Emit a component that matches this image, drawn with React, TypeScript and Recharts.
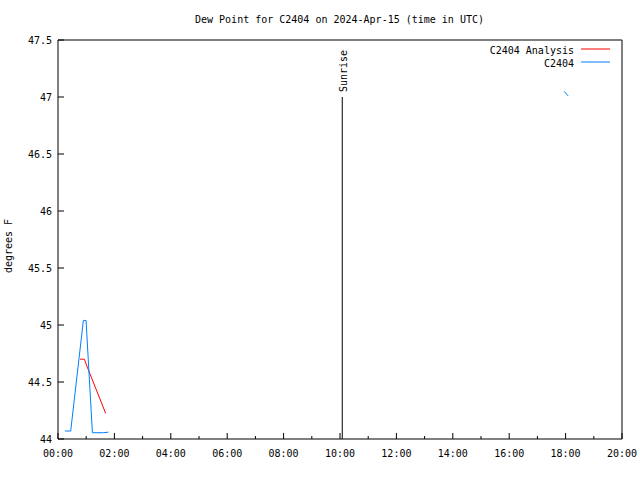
import React from "react";
import {
  LineChart,
  Line,
  XAxis,
  YAxis,
  ReferenceLine,
  Legend,
} from "recharts";

// times are hours since 00:00 UTC
const analysisTimes = [0.78, 0.935, 1.04, 1.69];
const analysisValues = [44.7, 44.7, 44.63, 44.225];

const stationTimes = [0.25, 0.45, 0.9, 0.995, 1.22, 1.61, 1.79, 10, 17.95, 18.09];
const stationValues = [44.07, 44.07, 45.04, 45.04, 44.055, 44.055, 44.06, null, 47.05, 47.01];

const hourTicks = [0, 1, 2, 3, 4, 5, 6, 7, 8, 9, 10, 11, 12, 13, 14, 15, 16, 17, 18, 19, 20];
const valueTicks = [44, 44.5, 45, 45.5, 46, 46.5, 47, 47.5];

const sunriseHour = 10.08;
const sunriseTop = 47;

const seriesNames = ["C2404 Analysis", "C2404"];
const seriesColors = ["#ff0000", "#0080ff"];

const analysisData = analysisTimes.map((t, i) => ({ t, v: analysisValues[i] }));
const stationData = stationTimes.map((t, i) => ({ t, v: stationValues[i] }));

const FONT = "'DejaVu Sans Mono', 'Liberation Mono', monospace";
const INK = "#000";
const TS = 6; // recharts tick size; custom ticks undo it to find the axis line

const hourLabel = (h: number) => `${String(h).padStart(2, "0")}:00`;

const BottomTick = (props: any) => {
  const { x, y, payload } = props;
  const ay = y - TS;
  const major = payload.value % 2 === 0;
  return (
    <g>
      <line x1={x} y1={ay} x2={x} y2={ay - (major ? 6 : 3)} stroke={INK} />
      {major && (
        <text x={x} y={ay + 18} textAnchor="middle" fontSize={10} fontFamily={FONT} fill={INK}>
          {hourLabel(payload.value)}
        </text>
      )}
    </g>
  );
};

const TopTick = (props: any) => {
  const { x, y, payload } = props;
  const ay = y + TS;
  const major = payload.value % 2 === 0;
  return <line x1={x} y1={ay} x2={x} y2={ay + (major ? 6 : 3)} stroke={INK} />;
};

const LeftTick = (props: any) => {
  const { x, y, payload } = props;
  const ax = x + TS;
  return (
    <g>
      <line x1={ax} y1={y} x2={ax + 6} y2={y} stroke={INK} />
      <text x={ax - 6} y={y + 4} textAnchor="end" fontSize={10} fontFamily={FONT} fill={INK}>
        {String(payload.value)}
      </text>
    </g>
  );
};

const RightTick = (props: any) => {
  const { x, y } = props;
  const ax = x - TS;
  return <line x1={ax} y1={y} x2={ax - 6} y2={y} stroke={INK} />;
};

const SunriseLabel = (props: any) => {
  const { viewBox } = props;
  const x = viewBox.x + 5;
  const y = viewBox.y - 5;
  return (
    <text
      x={x}
      y={y}
      transform={`rotate(-90 ${x} ${y})`}
      textAnchor="start"
      fontSize={10}
      fontFamily={FONT}
      fill={INK}
    >
      Sunrise
    </text>
  );
};

const renderLegend = () => (
  <svg width={640} height={80}>
    {seriesNames.map((name, i) => (
      <g key={name}>
        <text
          x={574}
          y={50 + i * 13 + 4}
          textAnchor="end"
          fontSize={10}
          fontFamily={FONT}
          fill={INK}
        >
          {name}
        </text>
        <line x1={581} x2={610} y1={49 + i * 13} y2={49 + i * 13} stroke={seriesColors[i]} />
      </g>
    ))}
  </svg>
);

export default function App() {
  return (
    <div style={{ position: "absolute", left: 0, top: 0, width: 640, height: 480, background: "#fff" }}>
      <LineChart width={640} height={480} margin={{ top: 39, right: 17, bottom: 11, left: 0 }}>
        <XAxis
          dataKey="t"
          type="number"
          domain={[0, 20]}
          ticks={hourTicks}
          interval={0}
          height={30}
          tickSize={TS}
          tickMargin={0}
          tickLine={false}
          axisLine={{ stroke: INK }}
          tick={<BottomTick />}
          allowDataOverflow
        />
        <XAxis
          xAxisId="top"
          orientation="top"
          type="number"
          domain={[0, 20]}
          ticks={hourTicks}
          interval={0}
          height={1}
          tickSize={TS}
          tickMargin={0}
          tickLine={false}
          axisLine={{ stroke: INK }}
          tick={<TopTick />}
        />
        <YAxis
          type="number"
          domain={[44, 47.5]}
          ticks={valueTicks}
          interval={0}
          width={58}
          tickSize={TS}
          tickMargin={0}
          tickLine={false}
          axisLine={{ stroke: INK }}
          tick={<LeftTick />}
          allowDataOverflow
        />
        <YAxis
          yAxisId="right"
          orientation="right"
          type="number"
          domain={[44, 47.5]}
          ticks={valueTicks}
          interval={0}
          width={1}
          tickSize={TS}
          tickMargin={0}
          tickLine={false}
          axisLine={{ stroke: INK }}
          tick={<RightTick />}
        />
        <ReferenceLine
          segment={[
            { x: sunriseHour, y: 44 },
            { x: sunriseHour, y: sunriseTop },
          ]}
          stroke={INK}
          strokeWidth={1}
          label={SunriseLabel}
        />
        <Line
          data={analysisData}
          dataKey="v"
          name={seriesNames[0]}
          stroke={seriesColors[0]}
          strokeWidth={1}
          dot={false}
          activeDot={false}
          isAnimationActive={false}
        />
        <Line
          data={stationData}
          dataKey="v"
          name={seriesNames[1]}
          stroke={seriesColors[1]}
          strokeWidth={1}
          dot={false}
          activeDot={false}
          connectNulls={false}
          isAnimationActive={false}
        />
        <Legend
          layout="vertical"
          align="center"
          verticalAlign="middle"
          content={renderLegend}
          wrapperStyle={{ top: 0, left: 0, width: 640, height: 80, pointerEvents: "none" }}
        />
      </LineChart>
      <svg
        width={640}
        height={480}
        style={{ position: "absolute", left: 0, top: 0, pointerEvents: "none" }}
      >
        <text x={339.5} y={23} textAnchor="middle" fontSize={10} fontFamily={FONT} fill={INK}>
          Dew Point for C2404 on 2024-Apr-15 (time in UTC)
        </text>
        <text
          x={12}
          y={246}
          transform="rotate(-90 12 246)"
          textAnchor="middle"
          fontSize={10}
          fontFamily={FONT}
          fill={INK}
        >
          degrees F
        </text>
      </svg>
    </div>
  );
}
